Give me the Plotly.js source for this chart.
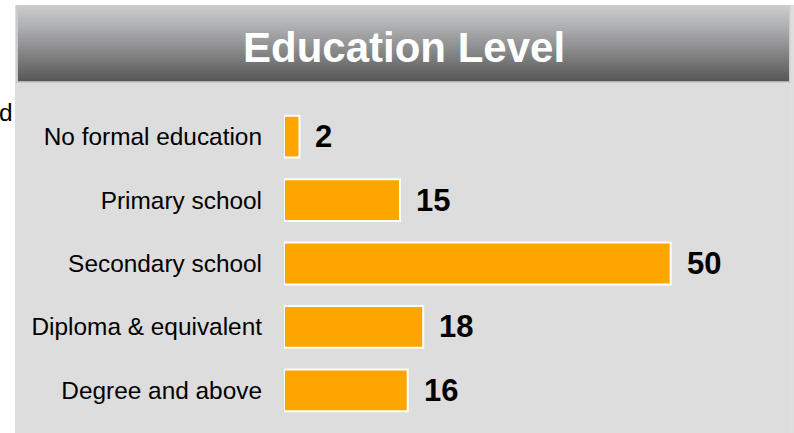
<!DOCTYPE html>
<html>
<head>
<meta charset="utf-8">
<script src="https://cdn.plot.ly/plotly-3.0.1.min.js"></script>
<style>
html,body{margin:0;padding:0;background:#fff;}
#chart{width:794px;height:433px;}
</style>
</head>
<body>
<div id="chart"></div>
<script>
// ---- data ----
const categories = ["No formal education", "Primary school", "Secondary school", "Diploma & equivalent", "Degree and above"];
const values = [2, 15, 50, 18, 16];
const chartTitle = "Education Level";

// ---- layout geometry (pixels) ----
const W = 794, H = 433;
const M = {l: 284, r: 46, t: 105, b: 11};
const plotW = W - M.l - M.r, plotH = H - M.t - M.b;
const px = x => (x - M.l) / plotW;
const py = y => (H - M.b - y) / plotH;
const FONT = "Liberation Sans, Arial, Helvetica, sans-serif";

const shapes = [];
// grey panel
shapes.push({type: "rect", xref: "paper", yref: "paper", layer: "below",
  x0: px(15), x1: px(800), y0: py(5), y1: py(440),
  fillcolor: "#dddddd", line: {width: 0}});
shapes.push({type: "line", xref: "paper", yref: "paper", layer: "below",
  x0: px(790.5), x1: px(790.5), y0: py(5), y1: py(440),
  line: {color: "#e2e2e2", width: 1}});
// title bar border
shapes.push({type: "rect", xref: "paper", yref: "paper", layer: "below",
  x0: px(16), x1: px(790.5), y0: py(5), y1: py(83),
  fillcolor: "#cbcbcb", line: {width: 0}});
// title bar gradient (styling strips)
const gradTop = [199, 200, 202], gradBot = [88, 88, 88];
const y0g = 7, y1g = 81, nStrips = 37;
for (let i = 0; i < nStrips; i++) {
  const f = i / (nStrips - 1);
  const c = gradTop.map((v, k) => Math.round(v + (gradBot[k] - v) * Math.pow(f, 1.1)));
  const ya = y0g + (y1g - y0g) * i / nStrips, yb = y0g + (y1g - y0g) * (i + 1) / nStrips + 0.3;
  shapes.push({type: "rect", xref: "paper", yref: "paper", layer: "below",
    x0: px(18), x1: px(789), y0: py(ya), y1: py(yb),
    fillcolor: `rgb(${c[0]},${c[1]},${c[2]})`, line: {width: 0}});
}

const annotations = [];
annotations.push({xref: "paper", yref: "paper", x: px(403.5), y: py(47),
  xanchor: "center", yanchor: "middle", showarrow: false, text: "<b>" + chartTitle + "</b>",
  font: {family: FONT, size: 42, color: "#ffffff"}});
annotations.push({xref: "paper", yref: "paper", x: px(14.5), y: py(113),
  xanchor: "right", yanchor: "middle", showarrow: false, text: "d",
  font: {family: FONT, size: 24.4, color: "#000000"}});
categories.forEach((c, i) => {
  annotations.push({x: values[i], y: c, xref: "x", yref: "y", xanchor: "left", yanchor: "middle",
    xshift: 14, showarrow: false, text: "<b>" + values[i] + "</b>",
    font: {family: FONT, size: 31, color: "#000000"}});
});

const trace = {
  type: "bar", orientation: "h",
  x: values, y: categories,
  marker: {color: "#FFA500", line: {color: "#ffffff", width: 2}},
  hoverinfo: "none"
};

const layout = {
  width: W, height: H,
  margin: M,
  paper_bgcolor: "#ffffff",
  plot_bgcolor: "rgba(0,0,0,0)",
  showlegend: false,
  bargap: 0.34,
  font: {family: FONT},
  xaxis: {range: [0, 60], visible: false, fixedrange: true},
  yaxis: {type: "category", range: [4.5, -0.5], showgrid: false, showline: false, zeroline: false,
    ticks: "", ticklabelstandoff: 21,
    tickfont: {family: FONT, size: 24.4, color: "#000000"}, fixedrange: true},
  shapes: shapes,
  annotations: annotations
};

Plotly.newPlot("chart", [trace], layout, {staticPlot: true, displayModeBar: false});
</script>
</body>
</html>
